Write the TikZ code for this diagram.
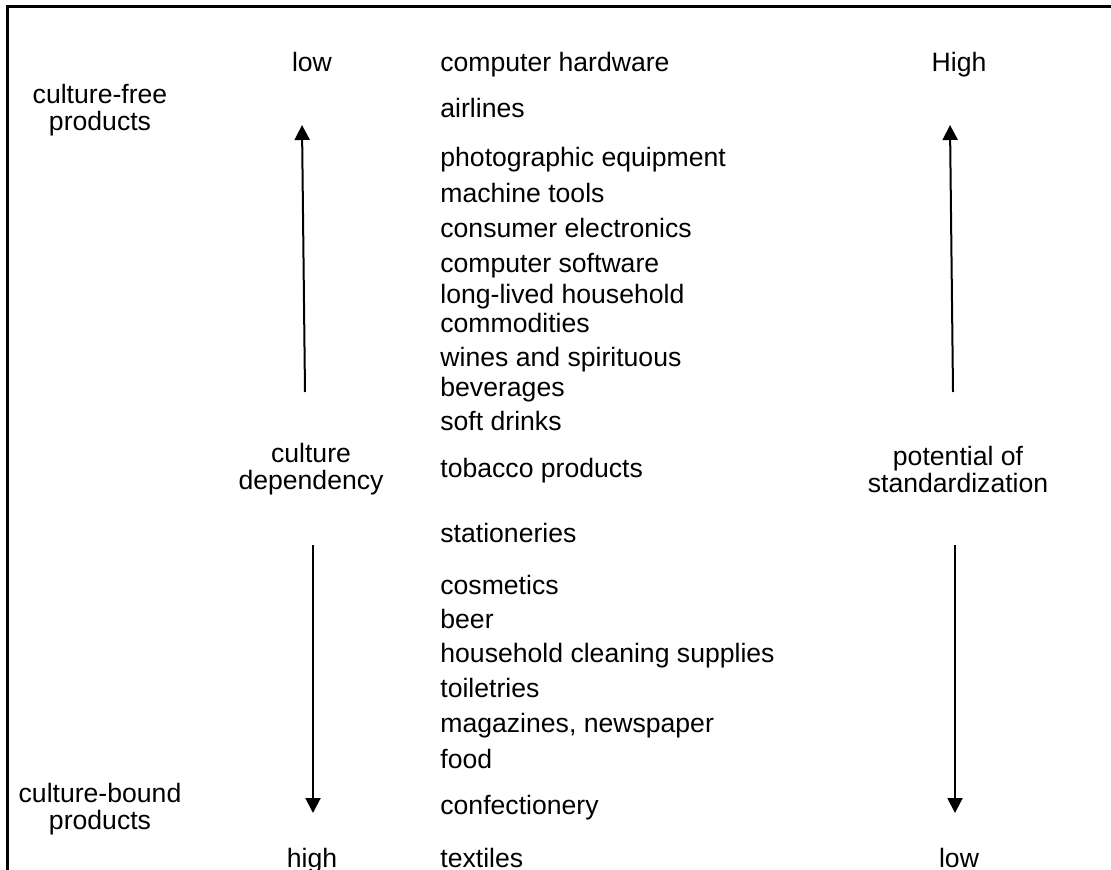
\documentclass[tikz,border=0pt]{standalone}
\usepackage{fontspec}
\setmainfont{Liberation Sans}
\usepackage{tikz}
\usetikzlibrary{positioning,arrows.meta}

\begin{document}
\begin{tikzpicture}[
  x=0.5pt, y=-0.5pt,
  every node/.style={font=\fontsize{13.3}{13.5}\selectfont, inner sep=0pt},
  item/.style={anchor=base west},
  scalelbl/.style={anchor=base},
  side/.style={align=center},
  arrow/.style={-{Triangle[length=7.5pt, width=7.5pt]}, line width=1pt}
]
  \useasboundingbox (0,0) rectangle (1111,870);

  % Moldura (cortada a direita e embaixo)
  \draw[line width=1.3pt] (7.5,870) |- (1111,6.5);

  % Coluna de produtos
  \node[item] (hw)    at (440,72)  {computer hardware};
  \node[item] (air)   at (440,118) {airlines};
  \node[item] (photo) at (440,167) {photographic equipment};
  \node[item] (mach)  at (440,203) {machine tools};
  \node[item] (elec)  at (440,238) {consumer electronics};
  \node[item] (sw)    at (440,273) {computer software};
  \node[item] (long)  at (440,304) {long-lived household};
  \node[item] (comm)  at (440,333) {commodities};
  \node[item] (wine)  at (440,367) {wines and spirituous};
  \node[item] (bev)   at (440,397) {beverages};
  \node[item] (soft)  at (440,431) {soft drinks};
  \node[item] (tob)   at (440,477) {tobacco products};
  \node[item] (stat)  at (440,542) {stationeries};
  \node[item] (cosm)  at (440,594) {cosmetics};
  \node[item] (beer)  at (440,628) {beer};
  \node[item] (clean) at (440,662) {household cleaning supplies};
  \node[item] (toil)  at (440,697) {toiletries};
  \node[item] (mag)   at (440,732) {magazines, newspaper};
  \node[item] (food)  at (440,768) {food};
  \node[item] (conf)  at (440,814) {confectionery};
  \node[item] (text)  at (440,867) {textiles};

  % Extremos das escalas
  \node[scalelbl] (lowL)  at (312,72)  {low};
  \node[scalelbl] (highR) at (959,72)  {High};
  \node[scalelbl] (highL) at (312,867) {high};
  \node[scalelbl] (lowR)  at (959,867) {low};

  % Rotulos laterais
  \node[side] (free)  at (100,110) {culture-free\\products};
  \node[side] (bound) at (100,809) {culture-bound\\products};
  \node[side] (dep)   at (311,469) {culture\\dependency};
  \node[side] (std)   at (958,469) {potential of\\standardization};

  % Setas
  \coordinate (depup)  at (305,392);
  \coordinate (deptop) at (302,125);
  \coordinate (depdn)  at (313,545);
  \coordinate (depbot) at (313,813);
  \coordinate (stdup)  at (953,392);
  \coordinate (stdtop) at (950,125);
  \coordinate (stddn)  at (955,545);
  \coordinate (stdbot) at (955,813);

  \draw[arrow] (depup) -- (deptop);
  \draw[arrow] (depdn) -- (depbot);
  \draw[arrow] (stdup) -- (stdtop);
  \draw[arrow] (stddn) -- (stdbot);
\end{tikzpicture}
\end{document}
